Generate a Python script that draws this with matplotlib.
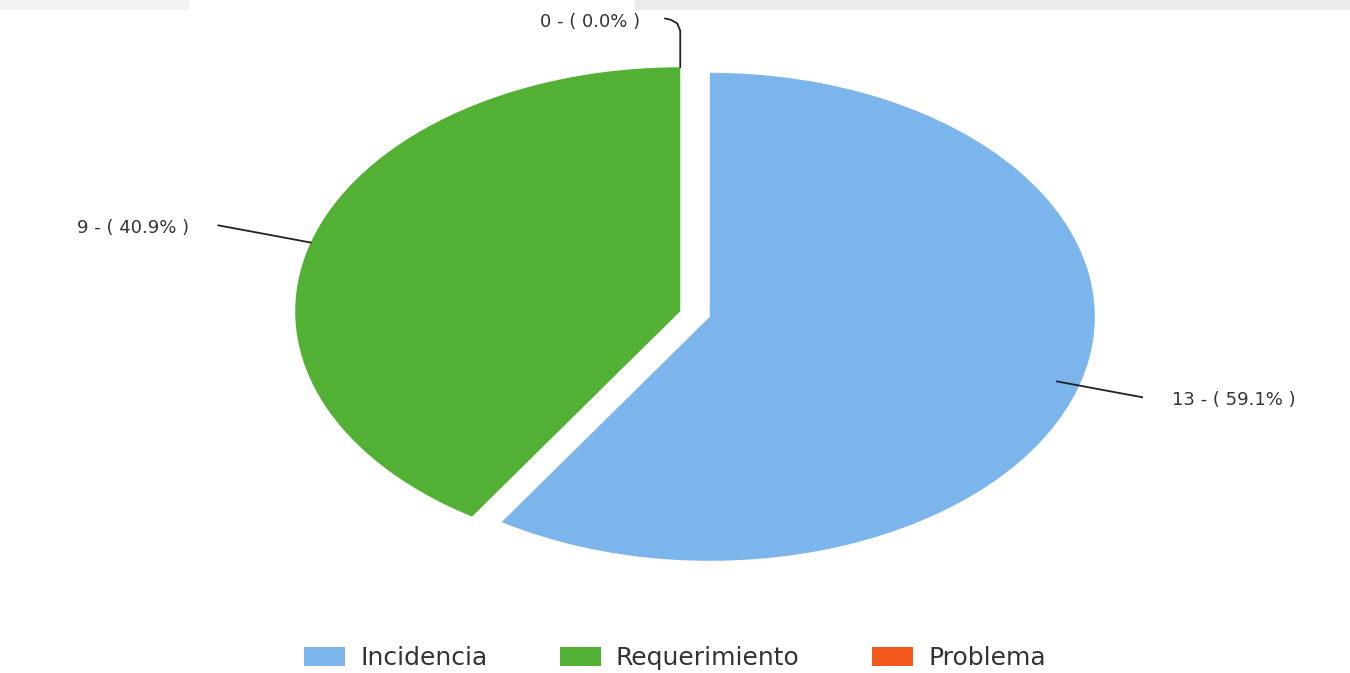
import numpy as np
import matplotlib
matplotlib.use("Agg")
import matplotlib.pyplot as plt
from matplotlib.patches import Patch, Rectangle

# data
categories = ["Incidencia", "Requerimiento", "Problema"]
counts = [13, 9, 0]
colors = ["#7cb5ec", "#52b134", "#f2571c"]

total = float(sum(counts))
pcts = [100.0 * c / total for c in counts]
labels = ["%d - ( %.1f%% )" % (c, p) for c, p in zip(counts, pcts)]

fig = plt.figure(figsize=(13.5, 6.73), dpi=100)
fig.patch.set_facecolor("white")

# faint grey strip along the top edge of the screenshot
fig.patches.append(Rectangle((0.47, 0.985), 0.53, 0.015, transform=fig.transFigure,
                             facecolor="#ebebeb", edgecolor="none", zorder=0))
fig.patches.append(Rectangle((0.0, 0.985), 0.14, 0.015, transform=fig.transFigure,
                             facecolor="#f3f3f3", edgecolor="none", zorder=0))

ax = fig.add_axes([0, 0, 1, 1])
ax.patch.set_alpha(0)

expl = 0.04
wedges, _ = ax.pie(counts, colors=colors, startangle=90, counterclock=False,
                   explode=[expl] * len(counts), radius=1.0,
                   wedgeprops=dict(linewidth=0))
ax.set_aspect("auto")
ax.set_xlim(-1.805, 1.701)
ax.set_ylim(-1.471, 1.287)
ax.axis("off")

# labels with leader lines, placed from each slice's mid angle
for w, lab, c in zip(wedges, labels, counts):
    mid = np.deg2rad((w.theta1 + w.theta2) / 2.0)
    cx, cy = w.center
    if c == 0:
        # zero slice sits at the top: take the edge of the neighbouring slice
        cx, cy = wedges[1].center
        x0, y0 = cx + np.cos(mid), cy + np.sin(mid)
        xs = [x0, x0, x0 - 0.008, x0 - 0.025, x0 - 0.04]
        ys = [y0, y0 + 0.15, y0 + 0.18, y0 + 0.195, y0 + 0.2]
        ax.plot(xs, ys, color="#222222", lw=1.3, solid_capstyle="round")
        ax.text(x0 - 0.105, y0 + 0.185, lab, ha="right", va="center",
                fontsize=13, color="#333333")
        continue
    side = 1 if np.cos(mid) > 0 else -1
    r0 = 0.94 if side > 0 else 1.0
    r1 = 1.17 if side > 0 else 1.25
    x0, y0 = cx + r0 * np.cos(mid), cy + r0 * np.sin(mid)
    x1, y1 = cx + r1 * np.cos(mid), cy + r1 * np.sin(mid)
    ax.plot([x0, x1], [y0, y1], color="#222222", lw=1.3)
    ax.text(x1 + side * 0.077, y1 - 0.012, lab, ha="left" if side > 0 else "right",
            va="center", fontsize=13, color="#333333")

handles = [Patch(facecolor=col, edgecolor="none") for col in colors]
fig.legend(handles, categories, loc="center", bbox_to_anchor=(0.5, 0.022),
           ncol=3, frameon=False, fontsize=18, handlelength=1.64,
           handleheight=0.76, handletextpad=0.6, columnspacing=2.9,
           labelcolor="#333333")

fig.savefig("out.png", dpi=100, facecolor="white")
